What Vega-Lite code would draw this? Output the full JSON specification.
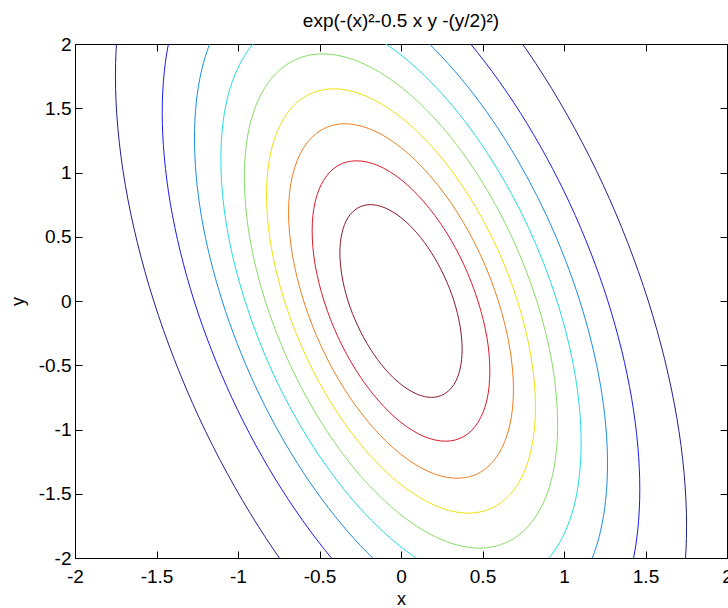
{
  "$schema": "https://vega.github.io/schema/vega-lite/v6.json",
  "width": 652,
  "height": 514,
  "autosize": {"type": "none"},
  "padding": {"left": 75, "top": 44, "right": 1, "bottom": 50},
  "background": "white",
  "config": {
    "font": "Liberation Sans",
    "view": {"stroke": null},
    "axis": {
      "grid": false,
      "domainColor": "black",
      "domainWidth": 1,
      "tickColor": "black",
      "tickWidth": 1,
      "tickSize": -7,
      "labelFontSize": 19,
      "labelColor": "black",
      "labelFont": "Liberation Sans",
      "labelFlush": false,
      "labelOverlap": false,
      "titleFontSize": 18,
      "titleFontWeight": "normal",
      "titleColor": "black",
      "titleFont": "Liberation Sans"
    }
  },
  "title": {
    "text": "exp(-(x)²-0.5 x y -(y/2)²)",
    "font": "Liberation Sans",
    "fontSize": 19,
    "fontWeight": "normal",
    "color": "black",
    "anchor": "middle",
    "offset": 4
  },
  "data": {
    "values": [
      {"l": 0.9, "i": 0, "x": 0.325, "y": 0},
      {"l": 0.9, "i": 1, "x": 0.265, "y": 0.194},
      {"l": 0.9, "i": 2, "x": 0.187, "y": 0.375},
      {"l": 0.9, "i": 3, "x": 0.097, "y": 0.530},
      {"l": 0.9, "i": 4, "x": 0, "y": 0.649},
      {"l": 0.9, "i": 5, "x": -0.097, "y": 0.724},
      {"l": 0.9, "i": 6, "x": -0.187, "y": 0.750},
      {"l": 0.9, "i": 7, "x": -0.265, "y": 0.724},
      {"l": 0.9, "i": 8, "x": -0.325, "y": 0.649},
      {"l": 0.9, "i": 9, "x": -0.362, "y": 0.530},
      {"l": 0.9, "i": 10, "x": -0.375, "y": 0.375},
      {"l": 0.9, "i": 11, "x": -0.362, "y": 0.194},
      {"l": 0.9, "i": 12, "x": -0.325, "y": 0},
      {"l": 0.9, "i": 13, "x": -0.265, "y": -0.194},
      {"l": 0.9, "i": 14, "x": -0.187, "y": -0.375},
      {"l": 0.9, "i": 15, "x": -0.097, "y": -0.530},
      {"l": 0.9, "i": 16, "x": 0, "y": -0.649},
      {"l": 0.9, "i": 17, "x": 0.097, "y": -0.724},
      {"l": 0.9, "i": 18, "x": 0.187, "y": -0.750},
      {"l": 0.9, "i": 19, "x": 0.265, "y": -0.724},
      {"l": 0.9, "i": 20, "x": 0.325, "y": -0.649},
      {"l": 0.9, "i": 21, "x": 0.362, "y": -0.530},
      {"l": 0.9, "i": 22, "x": 0.375, "y": -0.375},
      {"l": 0.9, "i": 23, "x": 0.362, "y": -0.194},

      {"l": 0.8, "i": 0, "x": 0.472, "y": 0},
      {"l": 0.8, "i": 1, "x": 0.386, "y": 0.282},
      {"l": 0.8, "i": 2, "x": 0.273, "y": 0.545},
      {"l": 0.8, "i": 3, "x": 0.141, "y": 0.771},
      {"l": 0.8, "i": 4, "x": 0, "y": 0.945},
      {"l": 0.8, "i": 5, "x": -0.141, "y": 1.054},
      {"l": 0.8, "i": 6, "x": -0.273, "y": 1.091},
      {"l": 0.8, "i": 7, "x": -0.386, "y": 1.054},
      {"l": 0.8, "i": 8, "x": -0.472, "y": 0.945},
      {"l": 0.8, "i": 9, "x": -0.527, "y": 0.771},
      {"l": 0.8, "i": 10, "x": -0.545, "y": 0.545},
      {"l": 0.8, "i": 11, "x": -0.527, "y": 0.282},
      {"l": 0.8, "i": 12, "x": -0.472, "y": 0},
      {"l": 0.8, "i": 13, "x": -0.386, "y": -0.282},
      {"l": 0.8, "i": 14, "x": -0.273, "y": -0.545},
      {"l": 0.8, "i": 15, "x": -0.141, "y": -0.771},
      {"l": 0.8, "i": 16, "x": 0, "y": -0.945},
      {"l": 0.8, "i": 17, "x": 0.141, "y": -1.054},
      {"l": 0.8, "i": 18, "x": 0.273, "y": -1.091},
      {"l": 0.8, "i": 19, "x": 0.386, "y": -1.054},
      {"l": 0.8, "i": 20, "x": 0.472, "y": -0.945},
      {"l": 0.8, "i": 21, "x": 0.527, "y": -0.771},
      {"l": 0.8, "i": 22, "x": 0.545, "y": -0.545},
      {"l": 0.8, "i": 23, "x": 0.527, "y": -0.282},

      {"l": 0.7, "i": 0, "x": 0.597, "y": 0},
      {"l": 0.7, "i": 1, "x": 0.488, "y": 0.357},
      {"l": 0.7, "i": 2, "x": 0.345, "y": 0.690},
      {"l": 0.7, "i": 3, "x": 0.178, "y": 0.975},
      {"l": 0.7, "i": 4, "x": 0, "y": 1.194},
      {"l": 0.7, "i": 5, "x": -0.178, "y": 1.332},
      {"l": 0.7, "i": 6, "x": -0.345, "y": 1.379},
      {"l": 0.7, "i": 7, "x": -0.488, "y": 1.332},
      {"l": 0.7, "i": 8, "x": -0.597, "y": 1.194},
      {"l": 0.7, "i": 9, "x": -0.666, "y": 0.975},
      {"l": 0.7, "i": 10, "x": -0.690, "y": 0.690},
      {"l": 0.7, "i": 11, "x": -0.666, "y": 0.357},
      {"l": 0.7, "i": 12, "x": -0.597, "y": 0},
      {"l": 0.7, "i": 13, "x": -0.488, "y": -0.357},
      {"l": 0.7, "i": 14, "x": -0.345, "y": -0.690},
      {"l": 0.7, "i": 15, "x": -0.178, "y": -0.975},
      {"l": 0.7, "i": 16, "x": 0, "y": -1.194},
      {"l": 0.7, "i": 17, "x": 0.178, "y": -1.332},
      {"l": 0.7, "i": 18, "x": 0.345, "y": -1.379},
      {"l": 0.7, "i": 19, "x": 0.488, "y": -1.332},
      {"l": 0.7, "i": 20, "x": 0.597, "y": -1.194},
      {"l": 0.7, "i": 21, "x": 0.666, "y": -0.975},
      {"l": 0.7, "i": 22, "x": 0.690, "y": -0.690},
      {"l": 0.7, "i": 23, "x": 0.666, "y": -0.357},

      {"l": 0.6, "i": 0, "x": 0.715, "y": 0},
      {"l": 0.6, "i": 1, "x": 0.584, "y": 0.427},
      {"l": 0.6, "i": 2, "x": 0.413, "y": 0.825},
      {"l": 0.6, "i": 3, "x": 0.214, "y": 1.167},
      {"l": 0.6, "i": 4, "x": 0, "y": 1.429},
      {"l": 0.6, "i": 5, "x": -0.214, "y": 1.594},
      {"l": 0.6, "i": 6, "x": -0.413, "y": 1.651},
      {"l": 0.6, "i": 7, "x": -0.584, "y": 1.594},
      {"l": 0.6, "i": 8, "x": -0.715, "y": 1.429},
      {"l": 0.6, "i": 9, "x": -0.797, "y": 1.167},
      {"l": 0.6, "i": 10, "x": -0.825, "y": 0.825},
      {"l": 0.6, "i": 11, "x": -0.797, "y": 0.427},
      {"l": 0.6, "i": 12, "x": -0.715, "y": 0},
      {"l": 0.6, "i": 13, "x": -0.584, "y": -0.427},
      {"l": 0.6, "i": 14, "x": -0.413, "y": -0.825},
      {"l": 0.6, "i": 15, "x": -0.214, "y": -1.167},
      {"l": 0.6, "i": 16, "x": 0, "y": -1.429},
      {"l": 0.6, "i": 17, "x": 0.214, "y": -1.594},
      {"l": 0.6, "i": 18, "x": 0.413, "y": -1.651},
      {"l": 0.6, "i": 19, "x": 0.584, "y": -1.594},
      {"l": 0.6, "i": 20, "x": 0.715, "y": -1.429},
      {"l": 0.6, "i": 21, "x": 0.797, "y": -1.167},
      {"l": 0.6, "i": 22, "x": 0.825, "y": -0.825},
      {"l": 0.6, "i": 23, "x": 0.797, "y": -0.427},

      {"l": 0.5, "i": 0, "x": 0.833, "y": 0},
      {"l": 0.5, "i": 1, "x": 0.680, "y": 0.498},
      {"l": 0.5, "i": 2, "x": 0.481, "y": 0.961},
      {"l": 0.5, "i": 3, "x": 0.249, "y": 1.360},
      {"l": 0.5, "i": 4, "x": 0, "y": 1.665},
      {"l": 0.5, "i": 5, "x": -0.249, "y": 1.857},
      {"l": 0.5, "i": 6, "x": -0.481, "y": 1.923},
      {"l": 0.5, "i": 7, "x": -0.680, "y": 1.857},
      {"l": 0.5, "i": 8, "x": -0.833, "y": 1.665},
      {"l": 0.5, "i": 9, "x": -0.929, "y": 1.360},
      {"l": 0.5, "i": 10, "x": -0.961, "y": 0.961},
      {"l": 0.5, "i": 11, "x": -0.929, "y": 0.498},
      {"l": 0.5, "i": 12, "x": -0.833, "y": 0},
      {"l": 0.5, "i": 13, "x": -0.680, "y": -0.498},
      {"l": 0.5, "i": 14, "x": -0.481, "y": -0.961},
      {"l": 0.5, "i": 15, "x": -0.249, "y": -1.360},
      {"l": 0.5, "i": 16, "x": 0, "y": -1.665},
      {"l": 0.5, "i": 17, "x": 0.249, "y": -1.857},
      {"l": 0.5, "i": 18, "x": 0.481, "y": -1.923},
      {"l": 0.5, "i": 19, "x": 0.680, "y": -1.857},
      {"l": 0.5, "i": 20, "x": 0.833, "y": -1.665},
      {"l": 0.5, "i": 21, "x": 0.929, "y": -1.360},
      {"l": 0.5, "i": 22, "x": 0.961, "y": -0.961},
      {"l": 0.5, "i": 23, "x": 0.929, "y": -0.498},

      {"l": 0.4, "i": 0, "x": 0.957, "y": 0},
      {"l": 0.4, "i": 1, "x": 0.782, "y": 0.572},
      {"l": 0.4, "i": 2, "x": 0.553, "y": 1.105},
      {"l": 0.4, "i": 3, "x": 0.286, "y": 1.563},
      {"l": 0.4, "i": 4, "x": 0, "y": 1.914},
      {"l": 0.4, "i": 5, "x": -0.286, "y": 2.135},
      {"l": 0.4, "i": 6, "x": -0.553, "y": 2.211},
      {"l": 0.4, "i": 7, "x": -0.782, "y": 2.135},
      {"l": 0.4, "i": 8, "x": -0.957, "y": 1.914},
      {"l": 0.4, "i": 9, "x": -1.068, "y": 1.563},
      {"l": 0.4, "i": 10, "x": -1.105, "y": 1.105},
      {"l": 0.4, "i": 11, "x": -1.068, "y": 0.572},
      {"l": 0.4, "i": 12, "x": -0.957, "y": 0},
      {"l": 0.4, "i": 13, "x": -0.782, "y": -0.572},
      {"l": 0.4, "i": 14, "x": -0.553, "y": -1.105},
      {"l": 0.4, "i": 15, "x": -0.286, "y": -1.563},
      {"l": 0.4, "i": 16, "x": 0, "y": -1.914},
      {"l": 0.4, "i": 17, "x": 0.286, "y": -2.135},
      {"l": 0.4, "i": 18, "x": 0.553, "y": -2.211},
      {"l": 0.4, "i": 19, "x": 0.782, "y": -2.135},
      {"l": 0.4, "i": 20, "x": 0.957, "y": -1.914},
      {"l": 0.4, "i": 21, "x": 1.068, "y": -1.563},
      {"l": 0.4, "i": 22, "x": 1.105, "y": -1.105},
      {"l": 0.4, "i": 23, "x": 1.068, "y": -0.572},

      {"l": 0.3, "i": 0, "x": 1.097, "y": 0},
      {"l": 0.3, "i": 1, "x": 0.896, "y": 0.656},
      {"l": 0.3, "i": 2, "x": 0.634, "y": 1.267},
      {"l": 0.3, "i": 3, "x": 0.328, "y": 1.792},
      {"l": 0.3, "i": 4, "x": 0, "y": 2.195},
      {"l": 0.3, "i": 5, "x": -0.328, "y": 2.448},
      {"l": 0.3, "i": 6, "x": -0.634, "y": 2.534},
      {"l": 0.3, "i": 7, "x": -0.896, "y": 2.448},
      {"l": 0.3, "i": 8, "x": -1.097, "y": 2.195},
      {"l": 0.3, "i": 9, "x": -1.224, "y": 1.792},
      {"l": 0.3, "i": 10, "x": -1.267, "y": 1.267},
      {"l": 0.3, "i": 11, "x": -1.224, "y": 0.656},
      {"l": 0.3, "i": 12, "x": -1.097, "y": 0},
      {"l": 0.3, "i": 13, "x": -0.896, "y": -0.656},
      {"l": 0.3, "i": 14, "x": -0.634, "y": -1.267},
      {"l": 0.3, "i": 15, "x": -0.328, "y": -1.792},
      {"l": 0.3, "i": 16, "x": 0, "y": -2.195},
      {"l": 0.3, "i": 17, "x": 0.328, "y": -2.448},
      {"l": 0.3, "i": 18, "x": 0.634, "y": -2.534},
      {"l": 0.3, "i": 19, "x": 0.896, "y": -2.448},
      {"l": 0.3, "i": 20, "x": 1.097, "y": -2.195},
      {"l": 0.3, "i": 21, "x": 1.224, "y": -1.792},
      {"l": 0.3, "i": 22, "x": 1.267, "y": -1.267},
      {"l": 0.3, "i": 23, "x": 1.224, "y": -0.656},

      {"l": 0.2, "i": 0, "x": 1.269, "y": 0},
      {"l": 0.2, "i": 1, "x": 1.036, "y": 0.758},
      {"l": 0.2, "i": 2, "x": 0.732, "y": 1.465},
      {"l": 0.2, "i": 3, "x": 0.379, "y": 2.072},
      {"l": 0.2, "i": 4, "x": 0, "y": 2.537},
      {"l": 0.2, "i": 5, "x": -0.379, "y": 2.830},
      {"l": 0.2, "i": 6, "x": -0.732, "y": 2.930},
      {"l": 0.2, "i": 7, "x": -1.036, "y": 2.830},
      {"l": 0.2, "i": 8, "x": -1.269, "y": 2.537},
      {"l": 0.2, "i": 9, "x": -1.415, "y": 2.072},
      {"l": 0.2, "i": 10, "x": -1.465, "y": 1.465},
      {"l": 0.2, "i": 11, "x": -1.415, "y": 0.758},
      {"l": 0.2, "i": 12, "x": -1.269, "y": 0},
      {"l": 0.2, "i": 13, "x": -1.036, "y": -0.758},
      {"l": 0.2, "i": 14, "x": -0.732, "y": -1.465},
      {"l": 0.2, "i": 15, "x": -0.379, "y": -2.072},
      {"l": 0.2, "i": 16, "x": 0, "y": -2.537},
      {"l": 0.2, "i": 17, "x": 0.379, "y": -2.830},
      {"l": 0.2, "i": 18, "x": 0.732, "y": -2.930},
      {"l": 0.2, "i": 19, "x": 1.036, "y": -2.830},
      {"l": 0.2, "i": 20, "x": 1.269, "y": -2.537},
      {"l": 0.2, "i": 21, "x": 1.415, "y": -2.072},
      {"l": 0.2, "i": 22, "x": 1.465, "y": -1.465},
      {"l": 0.2, "i": 23, "x": 1.415, "y": -0.758},

      {"l": 0.1, "i": 0, "x": 1.517, "y": 0},
      {"l": 0.1, "i": 1, "x": 1.239, "y": 0.907},
      {"l": 0.1, "i": 2, "x": 0.876, "y": 1.752},
      {"l": 0.1, "i": 3, "x": 0.454, "y": 2.478},
      {"l": 0.1, "i": 4, "x": 0, "y": 3.035},
      {"l": 0.1, "i": 5, "x": -0.454, "y": 3.385},
      {"l": 0.1, "i": 6, "x": -0.876, "y": 3.504},
      {"l": 0.1, "i": 7, "x": -1.239, "y": 3.385},
      {"l": 0.1, "i": 8, "x": -1.517, "y": 3.035},
      {"l": 0.1, "i": 9, "x": -1.692, "y": 2.478},
      {"l": 0.1, "i": 10, "x": -1.752, "y": 1.752},
      {"l": 0.1, "i": 11, "x": -1.692, "y": 0.907},
      {"l": 0.1, "i": 12, "x": -1.517, "y": 0},
      {"l": 0.1, "i": 13, "x": -1.239, "y": -0.907},
      {"l": 0.1, "i": 14, "x": -0.876, "y": -1.752},
      {"l": 0.1, "i": 15, "x": -0.454, "y": -2.478},
      {"l": 0.1, "i": 16, "x": 0, "y": -3.035},
      {"l": 0.1, "i": 17, "x": 0.454, "y": -3.385},
      {"l": 0.1, "i": 18, "x": 0.876, "y": -3.504},
      {"l": 0.1, "i": 19, "x": 1.239, "y": -3.385},
      {"l": 0.1, "i": 20, "x": 1.517, "y": -3.035},
      {"l": 0.1, "i": 21, "x": 1.692, "y": -2.478},
      {"l": 0.1, "i": 22, "x": 1.752, "y": -1.752},
      {"l": 0.1, "i": 23, "x": 1.692, "y": -0.907}
    ]
  },
  "layer": [
    {
      "mark": {"type": "line", "interpolate": "cardinal-closed", "tension": 0, "strokeWidth": 1, "clip": true},
      "encoding": {
        "x": {
          "field": "x", "type": "quantitative",
          "scale": {"domain": [-2, 2], "nice": false, "zero": false},
          "axis": {"orient": "bottom", "title": "x", "values": [-2, -1.5, -1, -0.5, 0, 0.5, 1, 1.5, 2], "labelExpr": "'' + datum.value", "labelPadding": 16, "titlePadding": 4}
        },
        "y": {
          "field": "y", "type": "quantitative",
          "scale": {"domain": [-2, 2], "nice": false, "zero": false},
          "axis": {"orient": "left", "title": "y", "values": [-2, -1.5, -1, -0.5, 0, 0.5, 1, 1.5, 2], "labelExpr": "'' + datum.value", "labelPadding": 11, "titlePadding": 11}
        },
        "color": {
          "field": "l", "type": "ordinal",
          "scale": {
            "domain": [0.1, 0.2, 0.3, 0.4, 0.5, 0.6, 0.7, 0.8, 0.9],
            "range": ["#202090", "#1a1aee", "#1a8ce6", "#22dddd", "#88dd66", "#f0e010", "#ee7f20", "#dd1a2a", "#8b1a2a"]
          },
          "legend": null
        },
        "order": {"field": "i", "type": "quantitative"}
      }
    },
    {
      "mark": {"type": "point", "opacity": 0, "clip": true},
      "encoding": {
        "x": {
          "field": "x", "type": "quantitative",
          "scale": {"domain": [-2, 2], "nice": false, "zero": false},
          "axis": {"orient": "top", "title": null, "labels": false, "values": [-2, -1.5, -1, -0.5, 0, 0.5, 1, 1.5, 2]}
        },
        "y": {
          "field": "y", "type": "quantitative",
          "scale": {"domain": [-2, 2], "nice": false, "zero": false},
          "axis": {"orient": "right", "title": null, "labels": false, "values": [-2, -1.5, -1, -0.5, 0, 0.5, 1, 1.5, 2]}
        }
      }
    }
  ],
  "resolve": {"axis": {"x": "independent", "y": "independent"}}
}
